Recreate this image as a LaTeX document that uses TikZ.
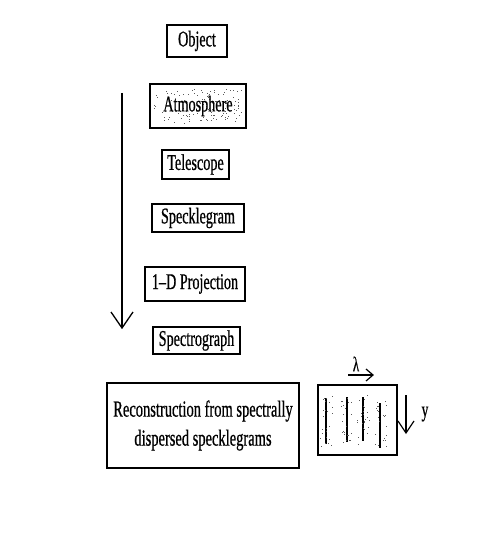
\documentclass[tikz,border=0pt]{standalone}
\usepackage{fontspec}
\setmainfont[FakeStretch=0.63,FakeBold=0.6]{Liberation Serif}
\begin{document}
\begin{tikzpicture}[x=1pt,y=-1pt,
  box/.style={draw, line width=1.4pt, inner sep=0pt, font=\fontsize{22.5}{25}\selectfont},
  arr/.style={line width=1.3pt},
  speck/.style={fill=black!65},
]
\useasboundingbox (0,0) rectangle (491,545);
% speckles behind Atmosphere
\pgfmathsetseed{11}
\foreach \i in {1,...,120}{
  \pgfmathsetmacro\xx{198+44*rand}
  \pgfmathsetmacro\yy{106+17*rand}
  \fill[speck] (\xx,\yy) rectangle ++(0.9,0.9);
}
\node[box, minimum width=60, minimum height=32] (obj) at (197,41) {Object};
\node[box, line width=2pt, minimum width=96, minimum height=44] (atm) at (198,106) {Atmosphere};
\node[box, minimum width=67, minimum height=29] (tel) at (195.5,164.5) {Telescope};
\node[box, minimum width=92, minimum height=28] (spk) at (198,218) {Specklegram};
\node[box, minimum width=100, minimum height=34] (proj) at (195,284) {1--D Projection};
\node[box, minimum width=87, minimum height=27] (spec) at (196.5,340.5) {Spectrograph};
\node[box, minimum width=192, minimum height=85, align=center,
      font=\fontsize{23}{29}\selectfont] (rec) at (203,425.5)
      {Reconstruction from spectrally\\dispersed specklegrams};
\node[draw, line width=1.4pt, minimum width=79, minimum height=70, inner sep=0pt] (sbox) at (357.5,420) {};

% main flow arrow
\coordinate (a0) at (122,93);
\coordinate (a1) at (122,328);
\draw[arr] (a0) -- (a1);
\draw[arr, line join=miter] (111,312) -- (a1) -- (133,312);

% streaks in the small box
\foreach \sx/\ya/\yb in {326/398/444, 347/397/442, 363/397/441, 380/403/448}{
  \draw[line width=1.6pt] (\sx,\ya) -- (\sx,\yb);
  \foreach \j in {1,...,24}{
    \pgfmathsetmacro\xx{\sx+6*rand}
    \pgfmathsetmacro\yy{(\ya+\yb)/2+26*rand}
    \fill[speck] (\xx,\yy) rectangle ++(0.9,0.9);
  }
}
% lambda arrow
\node[font=\fontsize{21}{22}\selectfont, inner sep=0pt] (lam) at (356,364) {λ};
\coordinate (l0) at (348,375);
\coordinate (l1) at (373,375);
\draw[line width=1.2pt] (l0) -- (l1);
\draw[line width=1.2pt] (366,369) -- (l1) -- (366,381);
\draw[line width=2.2pt] (373,385) -- (383,385);
% y arrow
\coordinate (y0) at (406,395);
\coordinate (y1) at (406,433);
\draw[line width=1.2pt] (y0) -- (y1);
\draw[line width=1.2pt] (398,421) -- (y1) -- (414,421);
\node[font=\fontsize{22}{24}\selectfont, inner sep=0pt] (ylab) at (425,414) {y};
\end{tikzpicture}
\end{document}
